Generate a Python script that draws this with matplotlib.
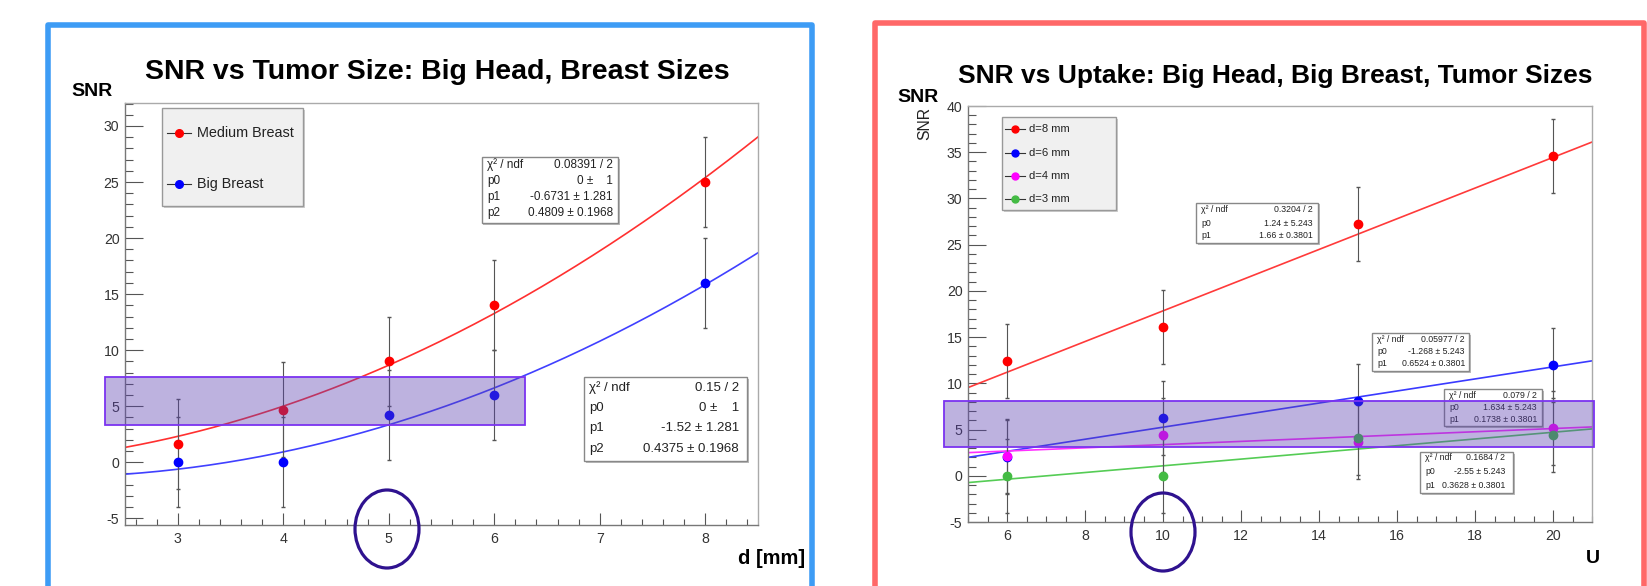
import matplotlib
matplotlib.use('Agg')
import matplotlib.pyplot as plt
from matplotlib.patches import Rectangle, Ellipse
from matplotlib.lines import Line2D
from matplotlib.ticker import MultipleLocator
from matplotlib import font_manager
import numpy as np

W, H = 1647, 586
plt.rcParams['axes.unicode_minus'] = False

# --- left chart: SNR vs tumor size ---
d_mm = [3, 4, 5, 6, 8]
snr_medium = [1.6, 4.7, 9.0, 14.0, 25.0]
snr_big = [0.0, 0.0, 4.2, 6.0, 16.0]
err_medium = [4.0, 4.2, 4.0, 4.0, 4.0]
err_big = [4.0, 4.0, 4.0, 4.0, 4.0]
fit_medium = [0.0, -0.6731, 0.4809]   # p0, p1, p2
fit_big = [0.0, -1.52, 0.4375]
stat_medium = ["0.08391 / 2", "0 \u00b1    1", "-0.6731 \u00b1 1.281", "0.4809 \u00b1 0.1968"]
stat_big = ["0.15 / 2", "0 \u00b1    1", "-1.52 \u00b1 1.281", "0.4375 \u00b1 0.1968"]
legend_left = ["Medium Breast", "Big Breast"]

# --- right chart: SNR vs uptake ---
uptake = [6, 10, 15, 20]
size_labels = ["d=8 mm", "d=6 mm", "d=4 mm", "d=3 mm"]
snr_d8 = [12.4, 16.1, 27.2, 34.6]
snr_d6 = [2.0, 6.2, 8.1, 12.0]
snr_d4 = [2.1, 4.4, 3.7, 5.2]
snr_d3 = [0.0, 0.0, 4.1, 4.4]
err_uptake = [4.0, 4.0, 4.0, 4.0]
fit_d8 = [1.24, 1.66]   # p0, p1
fit_d6 = [-1.268, 0.6524]
fit_d4 = [1.634, 0.1738]
fit_d3 = [-2.55, 0.3628]
stat_d8 = ["0.3204 / 2", "1.24 \u00b1 5.243", "1.66 \u00b1 0.3801"]
stat_d6 = ["0.05977 / 2", "-1.268 \u00b1 5.243", "0.6524 \u00b1 0.3801"]
stat_d4 = ["0.079 / 2", "1.634 \u00b1 5.243", "0.1738 \u00b1 0.3801"]
stat_d3 = ["0.1684 / 2", "-2.55 \u00b1 5.243", "0.3628 \u00b1 0.3801"]

names = set(f.name for f in font_manager.fontManager.ttflist)
if 'Liberation Sans Narrow' in names:
    narrow, nscale = 'Liberation Sans Narrow', 1.0
else:
    narrow, nscale = 'Liberation Sans', 0.85
bold_font = 'Liberation Sans'

def fx(x):
    return x / W

def fy(y):
    return 1 - y / H

fig = plt.figure(figsize=(W / 100, H / 100), dpi=100)
fig.patch.set_facecolor('white')

def fig_rect(x0, y0, x1, y1, **kw):
    r = Rectangle((fx(x0), fy(y1)), fx(x1) - fx(x0), fy(y0) - fy(y1),
                  transform=fig.transFigure, **kw)
    fig.patches.append(r)
    return r

def ftext(x, y, s, **kw):
    return fig.text(fx(x), fy(y), s, **kw)

# outer coloured frames
fig_rect(48, 24.5, 812, 620, fill=False, edgecolor='#3d9cf5', lw=4, joinstyle='round', zorder=1)
fig_rect(875, 23, 1644, 620, fill=False, edgecolor='#ff6868', lw=4, joinstyle='round', zorder=1)

def style_axes(ax, xmaj, xmin, ymaj, ymin):
    ax.xaxis.set_major_locator(MultipleLocator(xmaj))
    ax.xaxis.set_minor_locator(MultipleLocator(xmin))
    ax.yaxis.set_major_locator(MultipleLocator(ymaj))
    ax.yaxis.set_minor_locator(MultipleLocator(ymin))
    ax.tick_params(axis='y', which='major', direction='in', length=13, width=0.8, color='#555',
                   labelsize=12 * nscale, labelcolor='#333', pad=4, labelfontfamily=narrow)
    ax.tick_params(axis='y', which='minor', direction='in', length=6, width=0.8, color='#555')
    ax.tick_params(axis='x', which='major', direction='in', length=9, width=0.8, color='#555',
                   labelsize=12 * nscale, labelcolor='#333', pad=5, labelfontfamily=narrow)
    ax.tick_params(axis='x', which='minor', direction='in', length=4.5, width=0.8, color='#555')
    ax.tick_params(which='both', top=False, right=False)
    for s in ['left', 'bottom']:
        ax.spines[s].set_color('#777')
    for s in ['top', 'right']:
        ax.spines[s].set_color('#aaa')
    for s in ax.spines.values():
        s.set_linewidth(1)

# ---------------- left axes ----------------
axL = fig.add_axes([fx(125), fy(525), fx(758) - fx(125), fy(103) - fy(525)])
axL.set_xlim(2.5, 8.5)
axL.set_ylim(-5.6, 32.05)
style_axes(axL, 1, 0.2, 5, 1)

xs = np.linspace(2.5, 8.5, 300)
axL.plot(xs, np.polyval(fit_medium[::-1], xs), color='#ff3030', lw=1.2, zorder=2)
axL.plot(xs, np.polyval(fit_big[::-1], xs), color='#4040ff', lw=1.2, zorder=2)
axL.errorbar(d_mm, snr_medium, yerr=err_medium, fmt='o', color='red', ms=6, mec='red',
             ecolor='#555', elinewidth=0.8, capsize=1.2, zorder=3)
axL.errorbar(d_mm, snr_big, yerr=err_big, fmt='o', color='blue', ms=6, mec='blue',
             ecolor='#555', elinewidth=0.8, capsize=1.2, zorder=3)

# ---------------- right axes ----------------
axR = fig.add_axes([fx(968), fy(522), fx(1592) - fx(968), fy(106) - fy(522)])
axR.set_xlim(5, 21)
axR.set_ylim(-5, 40)
style_axes(axR, 2, 0.5, 5, 1)

right_series = [(snr_d8, fit_d8, 'red', '#ff3a3a'),
                (snr_d6, fit_d6, 'blue', '#3a3aff'),
                (snr_d4, fit_d4, '#ff00ff', '#ff30ff'),
                (snr_d3, fit_d3, '#44bb44', '#55cc55')]
xr = np.linspace(5, 21, 100)
for vals, fit, mc, lc in right_series:
    axR.plot(xr, fit[0] + fit[1] * xr, color=lc, lw=1.2, zorder=2)
for vals, fit, mc, lc in right_series:
    axR.errorbar(uptake, vals, yerr=err_uptake, fmt='o', color=mc, mec=mc, ms=6,
                 ecolor='#555', elinewidth=0.8, capsize=1.2, zorder=3)

# ---------------- titles and axis labels ----------------
ftext(437, 79, "SNR vs Tumor Size: Big Head, Breast Sizes", ha='center', va='baseline',
      fontsize=20.5, fontweight='bold', family=bold_font)
ftext(1275, 83, "SNR vs Uptake: Big Head, Big Breast, Tumor Sizes", ha='center', va='baseline',
      fontsize=19, fontweight='bold', family=bold_font)
ftext(92.5, 96, "SNR", ha='center', va='baseline', fontsize=14, fontweight='bold', family=bold_font)
ftext(918, 102, "SNR", ha='center', va='baseline', fontsize=14, fontweight='bold', family=bold_font)
ftext(925, 123, "SNR", ha='center', va='center', rotation=90, fontsize=11.3, color='#222',
      family=bold_font)
ftext(805, 564, "d [mm]", ha='right', va='baseline', fontsize=14.5, fontweight='bold', family=bold_font)
ftext(1600, 563, "U", ha='right', va='baseline', fontsize=14, fontweight='bold', family=bold_font)

# ---------------- legends ----------------
def legend_box(x0, y0, x1, y1, rows, labels, colors, lx0, lx1, mx, tx, fs, ms):
    fig_rect(x0 + 2, y0 + 2, x1 + 2, y1 + 2, facecolor='#cfcfcf', edgecolor='none', zorder=3)
    fig_rect(x0, y0, x1, y1, facecolor='#f0f0f0', edgecolor='#999', lw=1, zorder=3)
    for y, lab, c in zip(rows, labels, colors):
        fig.lines.append(Line2D([fx(lx0), fx(lx1)], [fy(y), fy(y)], transform=fig.transFigure,
                                color='#333', lw=0.8, zorder=4))
        fig.lines.append(Line2D([fx(mx)], [fy(y)], transform=fig.transFigure, marker='o',
                                color=c, ms=ms, zorder=4))
        ftext(tx, y, lab, ha='left', va='center', fontsize=fs * nscale, family=narrow,
              color='#222', zorder=4)

legend_box(162, 108, 303, 206, [133, 184], legend_left, ['red', 'blue'],
           167, 191, 179, 197, 12.2, 5.5)
legend_box(1002, 117, 1116, 210, [129, 153, 176, 199], size_labels,
           ['red', 'blue', '#ff00ff', '#44bb44'], 1005, 1025, 1015, 1029, 9.5, 5)

# ---------------- fit statistics boxes ----------------
def stats_box(x0, y0, x1, y1, rows, values, fs, lpad, rpad):
    labels = ["\u03c7\u00b2 / ndf", "p0", "p1", "p2"][:len(values)]
    fig_rect(x0 + 1.5, y0 + 1.5, x1 + 1.5, y1 + 1.5, facecolor='#bbb', edgecolor='none', zorder=2)
    fig_rect(x0, y0, x1, y1, facecolor='white', edgecolor='#888', lw=1, zorder=2)
    for y, lab, v in zip(rows, labels, values):
        ftext(x0 + lpad, y, lab, ha='left', va='center', fontsize=fs * nscale, family=narrow,
              color='#222', zorder=2)
        ftext(x1 - rpad, y, v, ha='right', va='center', fontsize=fs * nscale, family=narrow,
              color='#222', zorder=2)

stats_box(482, 157, 618, 223, [165, 181, 197, 213], stat_medium, 10, 5, 5)
stats_box(584, 377, 747, 461, [388, 408, 428, 449], stat_big, 11.2, 5, 8)
stats_box(1196, 203, 1318, 243, [210, 223, 235], stat_d8, 7.4, 5, 5)
stats_box(1372, 333, 1469, 371, [339, 352, 364], stat_d6, 7.4, 5, 4)
stats_box(1444, 389, 1542, 426, [396, 408, 419], stat_d4, 7.4, 5, 5)
stats_box(1420, 452, 1513, 493, [458, 472, 485], stat_d3, 7.4, 5, 8)

# ---------------- highlight bands and circles ----------------
fig_rect(105, 377, 525, 425, facecolor='#5a3fb0', alpha=0.4, edgecolor='none', zorder=5)
fig_rect(105, 377, 525, 425, fill=False, edgecolor='#7b33f0', lw=1.3, zorder=5)
fig_rect(944, 401, 1594, 447, facecolor='#5a3fb0', alpha=0.4, edgecolor='none', zorder=5)
fig_rect(944, 401, 1594, 447, fill=False, edgecolor='#7b33f0', lw=1.3, zorder=5)

for cx, cy in [(387, 529), (1163, 532)]:
    fig.patches.append(Ellipse((fx(cx), fy(cy)), 64 / W, 78 / H, transform=fig.transFigure,
                               fill=False, edgecolor='#2f128f', lw=2.3, zorder=5))

fig.savefig('out.png', dpi=100, facecolor='white')
